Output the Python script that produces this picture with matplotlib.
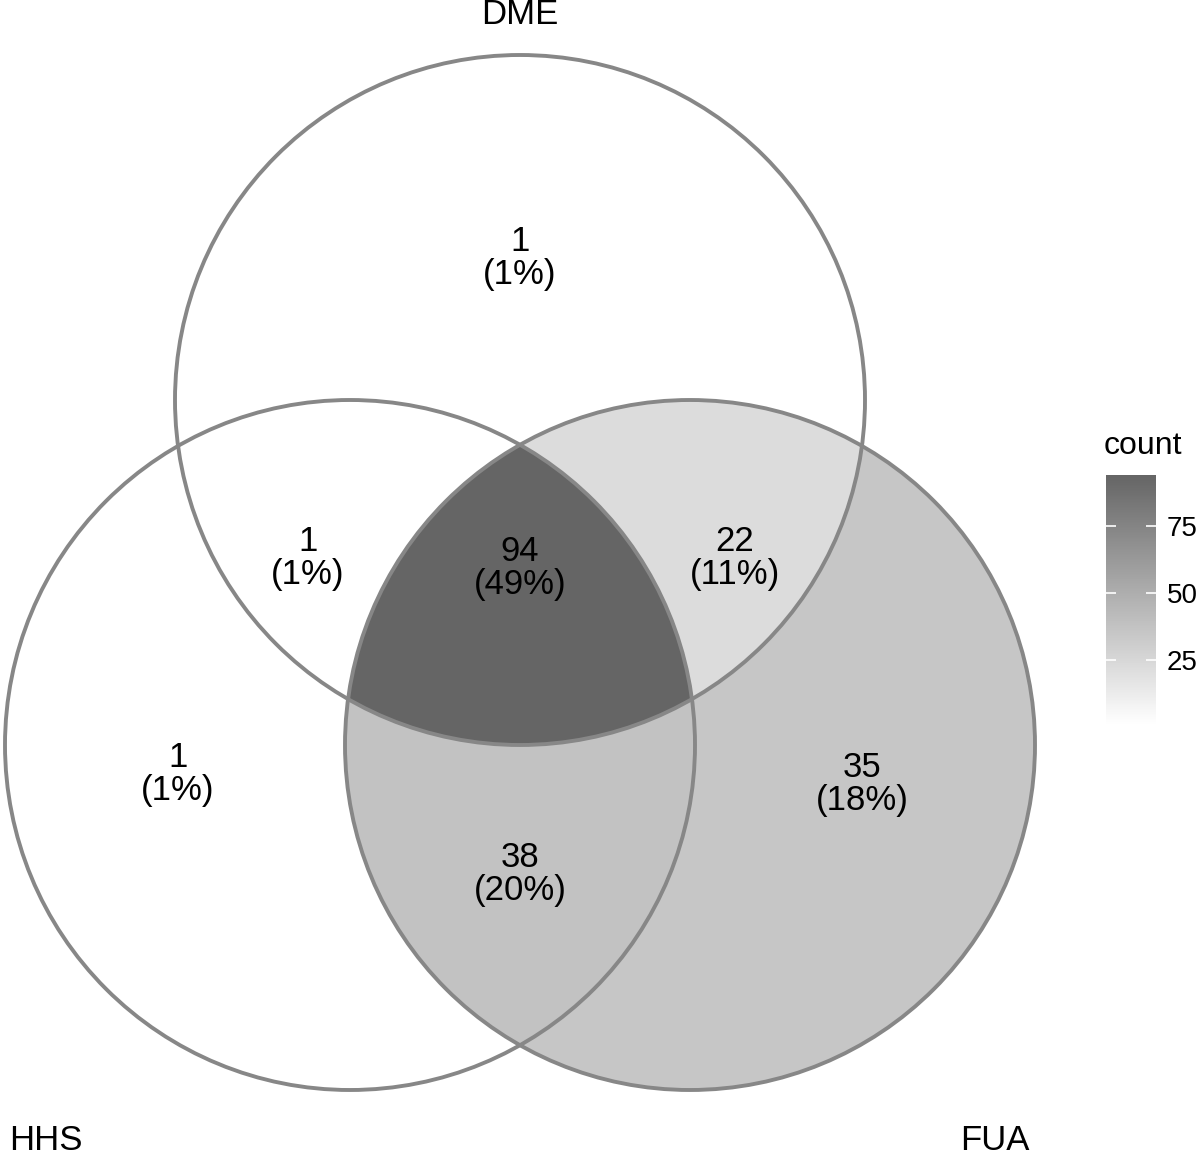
import numpy as np
import matplotlib
matplotlib.use('Agg')
import matplotlib.pyplot as plt
from matplotlib.colors import LinearSegmentedColormap
from matplotlib.patches import Circle

plt.rcParams['font.family'] = ['Liberation Sans', 'DejaVu Sans']

# sets and region counts (membership in DME, HHS, FUA)
set_names = ['DME', 'HHS', 'FUA']
regions = [(1, 0, 0), (0, 1, 0), (0, 0, 1), (1, 1, 0), (1, 0, 1), (0, 1, 1), (1, 1, 1)]
counts = [1, 1, 35, 1, 22, 38, 94]
cbar_ticks = [25, 50, 75]

# layout (pixel units)
W, H = 1200, 1156
centers = [(520, 400), (350, 745), (690, 745)]
radius = 345
label_pos = [(520, 258), (178, 774), (862, 784), (308, 558), (735, 558), (520, 874), (520, 568)]
name_pos = [(520, 15), (46, 1141), (995, 1141)]

total = sum(counts)
cmap = LinearSegmentedColormap.from_list('cnt', ['#ffffff', '#656565'])
cmap.set_bad((1, 1, 1, 0))

fig = plt.figure(figsize=(W / 100, H / 100), dpi=100)
ax = fig.add_axes([0, 0, 1, 1])
ax.set_xlim(0, W)
ax.set_ylim(H, 0)
ax.axis('off')

# region fill raster
xs = np.arange(W) + 0.5
ys = np.arange(H) + 0.5
X, Y = np.meshgrid(xs, ys)
inside = [((X - cx) ** 2 + (Y - cy) ** 2) <= radius ** 2 for cx, cy in centers]
val = np.full(X.shape, np.nan)
for reg, c in zip(regions, counts):
    m = np.ones(X.shape, bool)
    for k, flag in enumerate(reg):
        m &= inside[k] if flag else ~inside[k]
    val[m] = c
im = ax.imshow(np.ma.masked_invalid(val), cmap=cmap, vmin=1, vmax=94,
               extent=(0, W, H, 0), origin='upper', interpolation='nearest')

for cx, cy in centers:
    ax.add_patch(Circle((cx, cy), radius, fill=False, edgecolor='#878787', lw=2.8))

for (x, y), c in zip(label_pos, counts):
    ax.text(x, y, '%d\n(%d%%)' % (c, round(100 * c / total)), ha='center', va='center',
            fontsize=25, linespacing=1.0, color='black')

for (x, y), name in zip(name_pos, set_names):
    ax.text(x, y, name, ha='center', va='center', fontsize=25)

# colour bar
cax = fig.add_axes([1106 / W, (H - 725) / H, 50 / W, 250 / H])
cb = fig.colorbar(im, cax=cax, ticks=cbar_ticks)
cb.outline.set_visible(False)
cax.yaxis.set_ticks_position('both')
cax.tick_params(direction='in', color='white', length=7.2, width=1.2,
                labelleft=False, labelright=True, labelsize=20, pad=8)
fig.text(1104 / W, 1 - 446 / H, 'count', ha='left', va='center', fontsize=23)

fig.savefig('out.png', dpi=100)
